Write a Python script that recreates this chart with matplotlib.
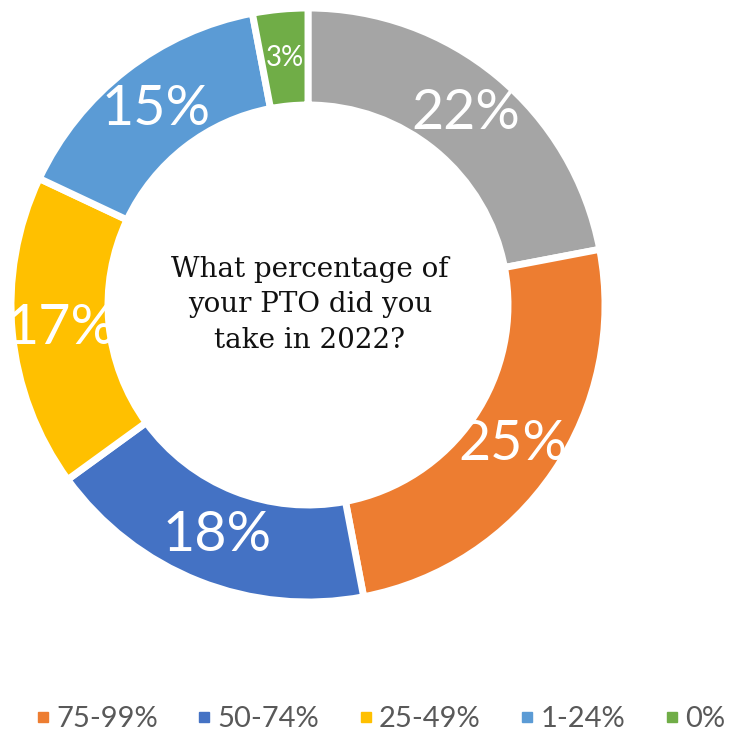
import numpy as np
import matplotlib.pyplot as plt
from matplotlib.lines import Line2D

# PTO survey answers, clockwise from 12 o'clock
groups = ["100%", "75-99%", "50-74%", "25-49%", "1-24%", "0%"]
shares = [22, 25, 18, 17, 15, 3]
colors = ["#A5A5A5", "#ED7D31", "#4472C4", "#FFC000", "#5B9BD5", "#70AD47"]
question = "What percentage of\nyour PTO did you\ntake in 2022?"

W, H = 731, 732
fig = plt.figure(figsize=(W / 100, H / 100), dpi=100)
ax = fig.add_axes([0, 0, 1, 1])

cx, cy, R = 308, H - 305, 297
wedges, _, pcts = ax.pie(shares, colors=colors, startangle=90, counterclock=False,
                         center=(cx, cy), radius=R, autopct=lambda p: f"{p:.0f}%",
                         pctdistance=0.835,
                         wedgeprops=dict(width=97, edgecolor="white", linewidth=5),
                         textprops=dict(color="white", fontsize=40, family="Lato"))
pcts[-1].set_fontsize(20)

ax.text(cx + 2, cy, question, ha="center", va="center", fontsize=20,
        family="DejaVu Serif", linespacing=1.4, color="#111111")

ax.set_xlim(0, W)
ax.set_ylim(0, H)
ax.set_aspect("equal")
ax.axis("off")

handles = [Line2D([], [], marker="s", ls="", color=c, markersize=7) for c in colors[1:]]
fig.legend(handles, groups[1:], loc="center left", bbox_to_anchor=(34 / W, 13 / H),
           ncol=5, frameon=False, borderpad=0, borderaxespad=0,
           handletextpad=0.15, columnspacing=1.3, handlelength=0.6,
           prop=dict(family="Lato", size=21), labelcolor="#595959")

plt.savefig("out.png", dpi=100)
